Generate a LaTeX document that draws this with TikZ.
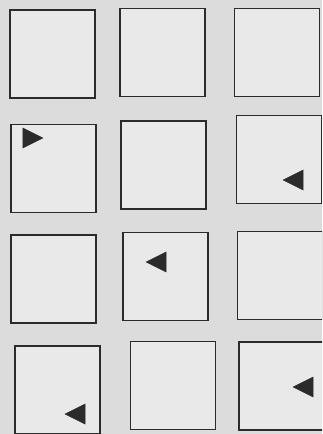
\documentclass[tikz,border=0pt]{standalone}
\usetikzlibrary{shapes.geometric}
\usepackage{xcolor}
\definecolor{paper}{HTML}{DCDCDC}
\definecolor{cellfill}{HTML}{E9E9E9}
\definecolor{ink}{HTML}{2B2B2B}

\begin{document}
\begin{tikzpicture}[
  x=1pt, y=-1pt,
  cell/.style={draw=ink, fill=cellfill, line width=1.6pt,
    minimum width=85pt, minimum height=88pt, inner sep=0pt},
  marker/.style={isosceles triangle, fill=ink, draw=ink, line width=0.6pt,
    isosceles triangle stretches, minimum width=20pt, minimum height=20pt,
    inner sep=0pt},
  left marker/.style={marker, shape border rotate=180}
]
\fill[paper] (0,0) rectangle (322,434);
\useasboundingbox (0,0) rectangle (322,434);
\clip (0,0) rectangle (322,434);

% row 1
\node[cell] (a1) at (52.5,54) {};
\node[cell] (a2) at (162.5,52.5) {};
\node[cell] (a3) at (277,52.5) {};
% row 2
\node[cell] (b1) at (53.5,168.5) {};
\node[cell] (b2) at (163.5,165) {};
\node[cell] (b3) at (279,159.5) {};
% row 3
\node[cell] (c1) at (53.5,279) {};
\node[cell] (c2) at (165.5,276.5) {};
\node[cell] (c3) at (280,275.5) {};
% row 4
\node[cell] (d1) at (57.5,390) {};
\node[cell] (d2) at (173,385.5) {};
\node[cell] (d3) at (281.5,386) {};

% markers
\node[marker] (mb1) at (29,138) {};
\node[left marker] (mb3) at (297,180) {};
\node[left marker] (mc2) at (160,262) {};
\node[left marker] (md1) at (79,414) {};
\node[left marker] (md3) at (307,387) {};
\end{tikzpicture}
\end{document}
